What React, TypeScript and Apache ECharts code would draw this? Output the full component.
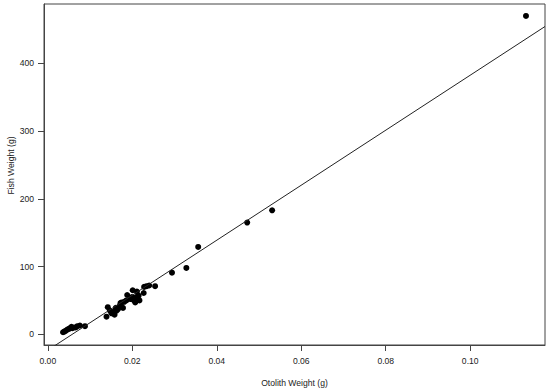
import React, { useEffect, useRef } from "react";
import * as echarts from "echarts";

// Observed data: otolith weight (g) vs fish weight (g)
const otolithWeight = [
  0.0036, 0.0039, 0.0042, 0.0046, 0.0050, 0.0053, 0.0056, 0.0058, 0.0062, 0.0066,
  0.0070, 0.0076, 0.0088, 0.0139, 0.0142, 0.0147, 0.0151, 0.0155, 0.0158, 0.0161,
  0.0163, 0.0166, 0.0169, 0.0172, 0.0175, 0.0178, 0.0181, 0.0186, 0.0188, 0.0196,
  0.0199, 0.0201, 0.0204, 0.0207, 0.0209, 0.0211, 0.0213, 0.0215, 0.0217, 0.0228,
  0.0227, 0.0234, 0.0240, 0.0254, 0.0294, 0.0328, 0.0356, 0.0472, 0.0531, 0.1132,
];
const fishWeight = [
  3, 4, 5, 7, 8, 9, 11, 9, 10, 10,
  12, 13, 12, 26, 40, 35, 31, 33, 29, 39,
  35, 37, 41, 46, 47, 39, 48, 50, 58, 52,
  55, 65, 50, 47, 55, 63, 52, 57, 50, 70,
  61, 71, 72, 71, 91, 98, 129, 165, 183, 470,
];

// Fitted regression line: fish = intercept + slope * otolith
const fitIntercept = -23.5;
const fitSlope = 4060;

const xTicks = [0, 0.02, 0.04, 0.06, 0.08, 0.1];
const yTicks = [0, 100, 200, 300, 400];
const xRange = [-0.0009, 0.1177];
const yRange = [-15.8, 487.6];

export default function App() {
  const ref = useRef<HTMLDivElement>(null);
  useEffect(() => {
    if (!ref.current) return;
    const chart = echarts.init(ref.current, undefined, { renderer: "svg" });
    const points = otolithWeight.map((x, i) => [x, fishWeight[i]]);
    const fit = xRange.map((x) => [x, fitIntercept + fitSlope * x]);
    const font = "'Liberation Sans', Arial, sans-serif";
    chart.setOption({
      animation: false,
      backgroundColor: "#ffffff",
      grid: {
        left: 44,
        top: 4,
        right: 5,
        bottom: 43,
        show: true,
        borderColor: "#444",
        borderWidth: 1,
        containLabel: false,
        outerBoundsMode: "none",
      },
      xAxis: {
        type: "value",
        min: xRange[0],
        max: xRange[1],
        name: "Otolith Weight (g)",
        nameLocation: "middle",
        nameGap: 33,
        nameMoveOverlap: false,
        nameTextStyle: { color: "#222", fontSize: 8.6, fontFamily: font },
        axisLine: { show: true, onZero: false, lineStyle: { color: "#444", width: 1 } },
        axisTick: { show: true, inside: false, length: 6, customValues: xTicks, lineStyle: { color: "#444" } },
        axisLabel: {
          customValues: xTicks,
          formatter: (v: number) => v.toFixed(2),
          color: "#222",
          fontSize: 8.6,
          fontFamily: font,
          margin: 11,
        },
        splitLine: { show: false },
      },
      yAxis: {
        type: "value",
        min: yRange[0],
        max: yRange[1],
        name: "Fish Weight (g)",
        nameLocation: "middle",
        nameGap: 29,
        nameMoveOverlap: false,
        nameTextStyle: { color: "#222", fontSize: 8.6, fontFamily: font, padding: [0, 0, 0, 18] },
        axisLine: { show: true, onZero: false, lineStyle: { color: "#444", width: 1 } },
        axisTick: { show: true, inside: false, length: 6, customValues: yTicks, lineStyle: { color: "#444" } },
        axisLabel: {
          customValues: yTicks,
          color: "#222",
          fontSize: 8.6,
          fontFamily: font,
          margin: 10,
        },
        splitLine: { show: false },
      },
      series: [
        {
          type: "line",
          data: fit,
          symbol: "none",
          clip: true,
          lineStyle: { color: "#222", width: 1 },
          silent: true,
        },
        {
          type: "scatter",
          data: points,
          symbol: "circle",
          symbolSize: 6,
          itemStyle: { color: "#000", opacity: 1 },
        },
      ],
    });
    return () => chart.dispose();
  }, []);
  return (
    <div
      ref={ref}
      style={{ position: "fixed", left: 0, top: 0, width: 550, height: 388 }}
    />
  );
}
